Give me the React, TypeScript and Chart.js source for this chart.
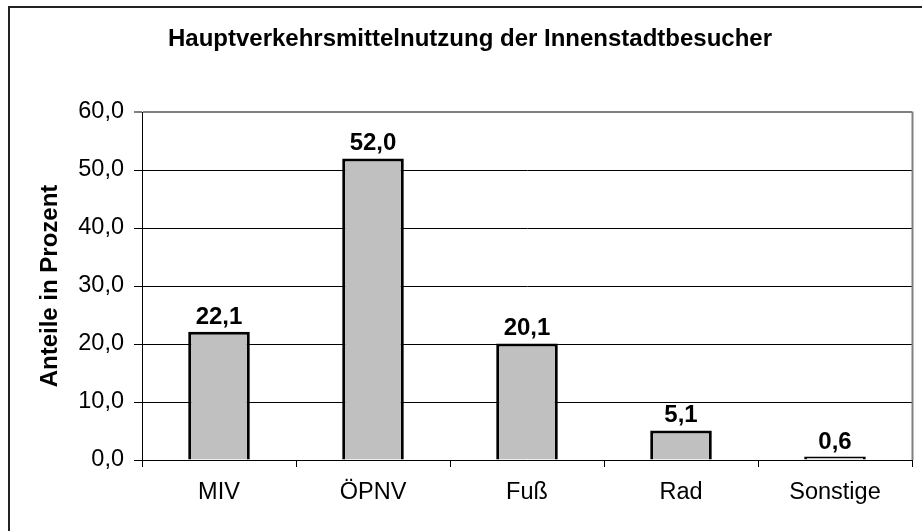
import React, { useEffect, useRef } from "react";
import { Chart, registerables } from "chart.js";

Chart.register(...registerables);

const TITLE = "Hauptverkehrsmittelnutzung der Innenstadtbesucher";
const Y_TITLE = "Anteile in Prozent";
const categories = ["MIV", "ÖPNV", "Fuß", "Rad", "Sonstige"];
const values = [22.1, 52.0, 20.1, 5.1, 0.6];
const Y_MIN = 0;
const Y_MAX = 60;
const Y_STEP = 10;

const FONT = "'Liberation Sans', Arial, Helvetica, sans-serif";
const fmt = (v: number) => v.toFixed(1).replace(".", ",");

const overlayPlugin = {
  id: "overlay",
  afterDraw(chart: any) {
    const { ctx, chartArea } = chart;
    ctx.save();
    // right border of plot area (gray)
    ctx.strokeStyle = "#808080";
    ctx.lineWidth = 2;
    ctx.beginPath();
    ctx.moveTo(chartArea.right + 0.5, chartArea.top - 0.5);
    ctx.lineTo(chartArea.right + 0.5, chartArea.bottom);
    ctx.stroke();

    // title
    ctx.fillStyle = "#000";
    ctx.font = `bold 24px ${FONT}`;
    ctx.textAlign = "center";
    ctx.textBaseline = "alphabetic";
    ctx.fillText(TITLE, 470, 46);

    // y title
    ctx.save();
    ctx.translate(57, (chartArea.top + chartArea.bottom) / 2);
    ctx.rotate(-Math.PI / 2);
    ctx.textAlign = "center";
    ctx.textBaseline = "alphabetic";
    ctx.fillText(Y_TITLE, 0, 0);
    ctx.restore();

    // data labels
    const meta = chart.getDatasetMeta(0);
    ctx.font = `bold 24px ${FONT}`;
    ctx.textAlign = "center";
    ctx.textBaseline = "alphabetic";
    meta.data.forEach((el: any, i: number) => {
      ctx.fillText(fmt(values[i]), el.x, el.y - 8);
    });
    ctx.restore();
  },
};

export default function App() {
  const ref = useRef<HTMLCanvasElement | null>(null);

  useEffect(() => {
    if (!ref.current) return;
    const chart = new Chart(ref.current, {
      type: "bar",
      data: {
        labels: categories,
        datasets: [
          {
            data: values,
            backgroundColor: "#c0c0c0",
            borderColor: "#000",
            borderWidth: 3,
            barPercentage: 0.4,
            categoryPercentage: 1,
          },
        ],
      },
      options: {
        responsive: false,
        animation: false,
        devicePixelRatio: 1,
        layout: { padding: { top: 112, right: 10, left: 0, bottom: 0 } },
        plugins: {
          legend: { display: false },
          title: { display: false },
          tooltip: { enabled: false },
        },
        scales: {
          x: {
            afterFit: (s: any) => {
              s.height = 71;
            },
            grid: {
              offset: true,
              drawOnChartArea: false,
              drawTicks: true,
              tickLength: 7,
              color: "#000",
            },
            border: { display: true, color: "#000", width: 1 },
            ticks: {
              color: "#000",
              padding: 11,
              font: { family: FONT, size: 23.5 },
            },
          },
          y: {
            min: Y_MIN,
            max: Y_MAX,
            afterFit: (s: any) => {
              s.width = 142;
            },
            grid: {
              drawTicks: true,
              tickLength: 8,
              color: (c: any) => (c.tick && c.tick.value === Y_MAX ? "#808080" : "#000"),
              lineWidth: (c: any) => (c.tick && c.tick.value === Y_MAX ? 2 : 1),
            },
            border: { display: true, color: "#000", width: 1 },
            ticks: {
              stepSize: Y_STEP,
              color: "#000",
              padding: 10,
              font: { family: FONT, size: 23.5 },
              callback: (v: any) => fmt(Number(v)),
            },
          },
        },
      },
      plugins: [overlayPlugin],
    });
    return () => chart.destroy();
  }, []);

  return (
    <div
      style={{
        position: "fixed",
        left: 0,
        top: 0,
        width: 922,
        height: 531,
        overflow: "hidden",
        background: "#fff",
      }}
    >
      <canvas ref={ref} width={922} height={531} style={{ width: 922, height: 531, display: "block" }} />
      <div
        style={{
          position: "absolute",
          left: 8,
          top: 6,
          width: 1000,
          height: 1000,
          borderTop: "2px solid #222",
          borderLeft: "2px solid #222",
          pointerEvents: "none",
        }}
      />
    </div>
  );
}
